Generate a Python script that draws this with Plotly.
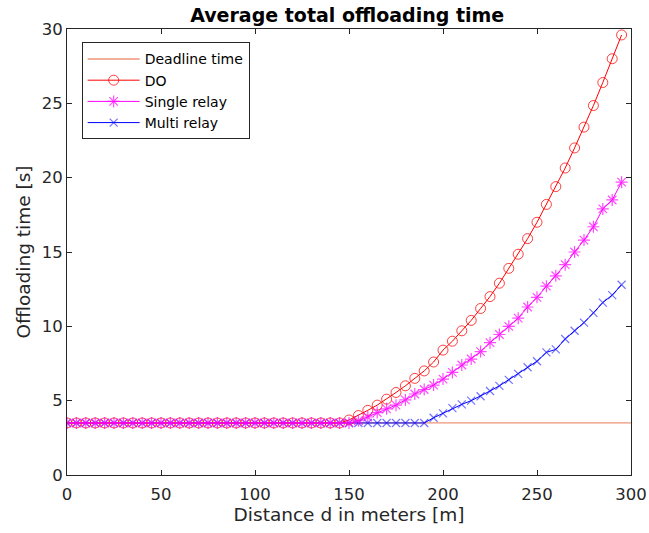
import plotly.graph_objects as go

distance = list(range(0, 300, 5))

deadline_x = [0, 300]
deadline_y = [3.5, 3.5]

do_time = [
    3.5, 3.5, 3.5, 3.5, 3.5, 3.5, 3.5, 3.5, 3.5, 3.5,
    3.5, 3.5, 3.5, 3.5, 3.5, 3.5, 3.5, 3.5, 3.5, 3.5,
    3.5, 3.5, 3.5, 3.5, 3.5, 3.5, 3.5, 3.5, 3.5, 3.5,
    3.7, 4.0, 4.35, 4.7, 5.1, 5.55, 6.0, 6.5, 7.0, 7.6,
    8.4, 9.0, 9.7, 10.4, 11.2, 12.0, 12.9, 13.9, 14.85, 15.9,
    17.0, 18.2, 19.4, 20.65, 22.0, 23.4, 24.85, 26.4, 28.0, 29.6,
]

single_relay = [
    3.5, 3.5, 3.5, 3.5, 3.5, 3.5, 3.5, 3.5, 3.5, 3.5,
    3.5, 3.5, 3.5, 3.5, 3.5, 3.5, 3.5, 3.5, 3.5, 3.5,
    3.5, 3.5, 3.5, 3.5, 3.5, 3.5, 3.5, 3.5, 3.5, 3.5,
    3.5, 3.65, 3.9, 4.2, 4.45, 4.7, 5.05, 5.45, 5.75, 6.05,
    6.45, 6.9, 7.4, 7.8, 8.3, 8.9, 9.45, 10.0, 10.55, 11.3,
    11.95, 12.7, 13.4, 14.15, 15.0, 15.8, 16.7, 17.9, 18.5, 19.7,
]

multi_relay = [
    3.5, 3.5, 3.5, 3.5, 3.5, 3.5, 3.5, 3.5, 3.5, 3.5,
    3.5, 3.5, 3.5, 3.5, 3.5, 3.5, 3.5, 3.5, 3.5, 3.5,
    3.5, 3.5, 3.5, 3.5, 3.5, 3.5, 3.5, 3.5, 3.5, 3.5,
    3.5, 3.5, 3.5, 3.5, 3.5, 3.5, 3.5, 3.5, 3.5, 3.85,
    4.15, 4.5, 4.75, 5.0, 5.3, 5.65, 6.0, 6.4, 6.8, 7.25,
    7.65, 8.25, 8.45, 9.15, 9.7, 10.25, 10.9, 11.6, 12.1, 12.8,
]

x_ticks = [0, 50, 100, 150, 200, 250, 300]
y_ticks = [0, 5, 10, 15, 20, 25, 30]

FONT = "DejaVu Sans"
AXC = "#262626"

fig = go.Figure()
fig.add_trace(go.Scatter(
    x=deadline_x, y=deadline_y, mode="lines", name="Deadline time",
    line=dict(color="rgb(238,150,120)", width=1.3), legendrank=1))
fig.add_trace(go.Scatter(
    x=distance, y=multi_relay, mode="lines+markers", name="Multi relay",
    line=dict(color="rgb(0,0,255)", width=1),
    marker=dict(symbol="x-thin-open", size=8, color="rgba(0,0,255,0.55)",
                line=dict(color="rgba(0,0,255,0.55)", width=1.2)),
    legendrank=4))
fig.add_trace(go.Scatter(
    x=distance, y=do_time, mode="lines+markers", name="DO",
    line=dict(color="rgb(255,0,0)", width=1),
    marker=dict(symbol="circle-open", size=10, color="rgba(255,0,0,0.75)",
                line=dict(color="rgba(255,0,0,0.75)", width=1)),
    legendrank=2))
fig.add_trace(go.Scatter(
    x=distance, y=single_relay, mode="lines+markers", name="Single relay",
    line=dict(color="rgb(255,0,255)", width=1),
    marker=dict(symbol="asterisk-open", size=10, color="rgba(255,0,255,0.7)",
                line=dict(color="rgba(255,0,255,0.7)", width=1.2)),
    legendrank=3))

fig.update_layout(
    width=649, height=533,
    margin=dict(l=67, r=18, t=29, b=58),
    paper_bgcolor="white", plot_bgcolor="white",
    font=dict(family=FONT, color=AXC, size=16),
    title=dict(text="<b>Average total offloading time</b>", x=0.535, xanchor="center",
               y=0.972, yanchor="middle", font=dict(family=FONT, size=19, color="black")),
    showlegend=True,
    legend=dict(x=0.026, y=0.97, xanchor="left", yanchor="top",
                bgcolor="white", bordercolor=AXC, borderwidth=1,
                font=dict(family=FONT, size=14, color="black"),
                tracegroupgap=0, itemwidth=52),
    xaxis=dict(range=[0, 300], tickvals=x_ticks, ticks="inside", ticklen=5,
               showline=True, linecolor=AXC, linewidth=1, mirror="ticks",
               showgrid=False, zeroline=False, tickcolor=AXC, automargin=False,
               ticklabelstandoff=4,
               tickfont=dict(size=16.5, color=AXC),
               title=dict(text="Distance d in meters [m]", font=dict(size=18.5, color=AXC), standoff=4)),
    yaxis=dict(range=[0, 30], tickvals=y_ticks, ticks="inside", ticklen=5,
               showline=True, linecolor=AXC, linewidth=1, mirror="ticks",
               showgrid=False, zeroline=False, tickcolor=AXC, automargin=False,
               tickfont=dict(size=16.5, color=AXC),
               title=dict(text="Offloading time [s]", font=dict(size=18.5, color=AXC), standoff=6)),
)

fig.write_html("out.html")
